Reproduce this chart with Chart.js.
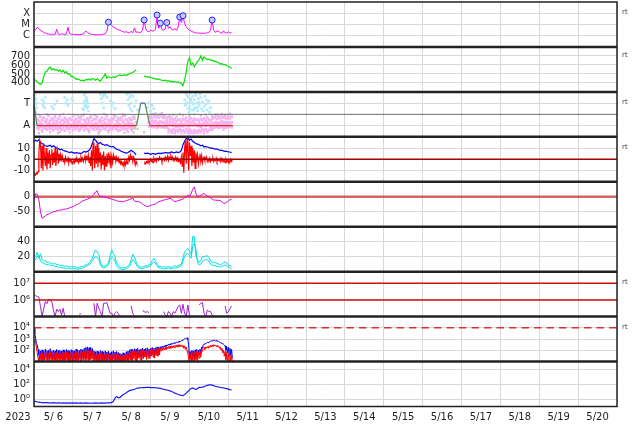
<!DOCTYPE html>
<html><head><meta charset="utf-8">
<script src="https://cdn.jsdelivr.net/npm/chart.js@4/dist/chart.umd.min.js"></script>
<style>html,body{margin:0;padding:0;background:#fff}canvas{display:block}</style>
</head><body>
<canvas id="c" width="634" height="424"></canvas>
<script>
// ---------- axis labels ----------
const yearLabel = '2023';
const dayLabels = ['5/ 6','5/ 7','5/ 8','5/ 9','5/10','5/11','5/12','5/13','5/14','5/15','5/16','5/17','5/18','5/19','5/20'];
const xrayTicks = [1e-6, 1e-5, 1e-4];       const xrayTickLabels = ['C','M','X'];
const windTicks = [400, 500, 600, 700];      const windTickLabels = ['400','500','600','700'];
const sectorTicks = [1, 3];                  const sectorTickLabels = ['A','T'];
const imfTicks = [-10, 0, 10];               const imfTickLabels = ['-10','0','10'];
const dstTicks = [-50, 0];                   const dstTickLabels = ['-50','0'];
const cyanTicks = [20, 40];                  const cyanTickLabels = ['20','40'];
const elecTicks = [1e6, 1e7];                const elecTickLabels = ['10\u2076','10\u2077'];
const protTicks = [1e2, 1e3, 1e4];           const protTickLabels = ['10\u00B2','10\u00B3','10\u2074'];
const p9Ticks = [1, 1e2, 1e4];               const p9TickLabels = ['10\u2070','10\u00B2','10\u2074'];

// ---------- series (hourly from 5/6 00:00 unless noted) ----------
const xrayFlux = [2.3e-6,3.5e-6,5.6e-6,4.5e-6,3.0e-6,2.4e-6,2.0e-6,1.7e-6,1.5e-6,1.4e-6,
 1.35e-6,1.3e-6,1.4e-6,1.3e-6,3.7e-6,1.4e-6,1.3e-6,1.5e-6,1.4e-6,1.3e-6,
 1.4e-6,5.6e-6,1.6e-6,1.4e-6,1.3e-6,1.3e-6,1.25e-6,1.3e-6,1.2e-6,1.3e-6,
 1.4e-6,1.8e-6,2.6e-6,2.0e-6,1.6e-6,1.4e-6,1.3e-6,1.25e-6,1.2e-6,1.2e-6,
 1.25e-6,1.2e-6,1.3e-6,1.4e-6,1.5e-6,2.5e-6,1.6e-5,1.2e-5,8e-6,6e-6,
 5e-6,4e-6,3.4e-6,3.0e-6,2.6e-6,2.3e-6,2.0e-6,2.3e-6,1.9e-6,1.8e-6,
 2.5e-6,1.8e-6,4.9e-6,2.0e-6,2.2e-6,1.9e-6,2.0e-6,3.0e-6,2.5e-5,4e-6,
 2.5e-6,2.2e-6,3.2e-6,2.6e-6,2.8e-6,3.5e-6,6.9e-5,4.5e-6,1.3e-5,3.5e-6,
 3.0e-6,4.0e-6,1.5e-5,4.5e-6,6.3e-6,3.5e-6,3.2e-6,4.5e-6,3.0e-6,6.0e-6,
 4.6e-5,1.5e-5,6.0e-5,1.2e-5,6.3e-6,4.0e-6,3.2e-6,2.6e-6,2.2e-6,2.0e-6,
 1.8e-6,1.7e-6,1.7e-6,1.6e-6,1.7e-6,1.6e-6,1.7e-6,1.8e-6,2.0e-6,3.0e-6,
 2.5e-5,3.0e-6,2.0e-6,2.4e-6,2.6e-6,1.8e-6,1.7e-6,2.8e-6,1.8e-6,1.7e-6,
 2.2e-6,1.7e-6,2.0e-6];
const flareHours = [46, 68, 76, 78, 82, 90, 92, 110];
const flareFlux = [1.6e-5, 2.5e-5, 6.9e-5, 1.3e-5, 1.5e-5, 4.6e-5, 6.0e-5, 2.5e-5];

const windSpeed = [440,430,410,395,385,400,470,520,530,560,
 575,545,560,540,550,530,545,520,540,510,
 525,495,500,470,470,455,440,445,435,425,
 430,420,440,435,445,430,450,440,430,445,
 430,420,450,470,500,455,470,460,455,470,
 460,475,480,490,480,485,490,485,495,500,
 510,515,530,545,null,null,null,null,475,470,
 465,470,460,455,450,445,440,445,435,430,
 425,430,420,425,415,420,410,415,405,410,
 400,395,370,430,520,640,680,600,620,580,
 610,640,660,700,650,690,670,660,665,650,
 655,640,645,630,625,610,615,600,605,590,
 585,575,560];

// sector panel: T=3, A=1
const sectorToward = 3, sectorAway = 1, sectorMid = 2;
const sectorHours = [0, 1.9, 63.3, 65.9, 68.5, 71.6, 122.9];
const sectorState = [2.85, 1, 1, 3, 3, 1, 1];
const towardPts = [[0.2,3.6],[0.5,3.2],[0.8,2.9],[1.2,3.4],[1.5,2.6],[1.8,3.0],[0.3,2.4],[1.0,2.2],[0.6,3.8],
 [5,3.3],[5.5,2.8],[6,3.1],[6.5,2.6],[7,3.5],[11,2.7],[12,2.5],[12.8,2.9],[14.2,3.2],
 [19,3.5],[19.8,3.0],[20.5,3.3],[21,2.8],[23.5,3.4],[24,3.2],
 [30,2.5],[30.5,2.4],[31,3.7],[31.5,3.2],[32,2.9],[32.3,3.5],[32.7,2.6],[33,3.1],[33.3,2.7],
 [30.8,3.0],[31.3,2.7],[31.8,3.9],[32.5,3.3],[33.6,2.3],
 [41,3.8],[41.5,3.4],[42,3.0],[42.5,3.6],[43,2.6],[44,3.7],[45,3.5],[41.8,3.9],[43.5,3.8],
 [47,3.2],[48,2.7],[49,3.0],[50,2.5],
 [57.5,3.8],[58,3.3],[58.5,2.8],[59,3.5],[59.5,2.5],[60,3.0],[61,3.6],[62,2.7],[63,3.2],[64,2.4],
 [58.2,3.9],[59.8,3.7],[60.5,2.3],
 [70,2.6],[71,3.0],[72,2.3],[73,2.8],[74,2.5],[75,2.1],
 [93,3.3],[93.5,2.8],[94,3.8],[94.5,3.0],[95,2.5],[95.5,3.5],[96,2.7],[96.5,3.9],[97,3.2],[97.5,2.4],
 [98,3.6],[98.5,2.9],[99,3.3],[99.5,2.6],[100,3.7],[100.5,3.0],[101,2.3],[101.5,3.4],[102,2.8],[103,3.5],
 [103.5,2.5],[104,3.1],[105,2.7],[105.5,3.6],[106,2.9],[107,2.4],[108,3.2],[109,2.6],
 [93.8,3.0],[94.8,3.6],[95.8,2.2],[96.8,3.4],[97.8,3.0],[98.8,2.4],[99.8,3.9],[100.8,2.6],[101.8,3.1],[102.5,3.8],
 [104.5,2.3],[106.5,3.3],[107.5,3.0],[108.5,2.2]];
const awayMid = [1.1,1.0,1.2,1.1,0.9,1.3,1.0,1.2,1.1,0.95,
 1.2,1.05,1.15,0.9,1.25,1.0,1.1,1.3,0.95,1.2,
 1.05,1.1,0.9,1.2,1.0,1.15,1.3,1.0,1.1,0.9,
 1.2,1.05,1.25,0.95,1.1,1.0,1.2,1.15,0.9,1.3,
 1.0,1.1,1.2,0.95,1.15,1.05,1.25,0.9,1.1,1.0,
 1.2,1.1,0.95,1.3,1.0,1.15,1.05,1.2,0.9,1.1,1.0,
 null,null,null,null,null,null,null,null,
 1.3,1.2,1.35,1.25,1.4,1.3,1.2,1.35,1.25,1.3,
 1.2,1.35,1.1,1.3,1.2,1.0,1.15,0.9,1.1,1.0,
 1.2,0.95,1.1,1.3,1.0,1.15,1.25,1.05,1.2,1.1,
 1.0,1.15,0.9,1.1,1.2,1.0,1.25,1.1,0.95,1.2,
 1.15,1.3,1.1,1.25,1.2,1.35,1.15,1.3,1.2,1.25,1.1,1.3];
const awayHigh = [1.6,1.45,1.8,1.5,1.7,1.4,1.55,1.9,1.45,1.65,
 1.5,1.75,1.4,1.6,1.85,1.5,1.45,1.7,1.55,1.4,
 1.65,1.5,1.8,1.45,1.6,1.4,1.7,1.55,1.9,1.5,
 1.45,1.65,1.5,1.8,1.4,1.6,1.55,1.75,1.45,1.5,
 1.7,1.4,1.6,1.85,1.5,1.45,1.65,1.55,1.8,1.4,
 1.6,1.5,1.7,1.45,1.9,1.55,1.4,1.65,1.5,1.75,1.6,
 null,null,null,null,null,null,null,null,
 1.7,1.8,1.65,1.9,1.75,1.85,1.7,1.95,1.8,1.7,
 1.85,1.6,1.75,1.5,1.65,1.45,1.6,1.4,1.55,1.5,
 1.45,1.6,1.5,1.7,1.4,1.55,1.65,1.45,1.6,1.5,
 1.55,1.4,1.6,1.5,1.65,1.45,1.7,1.55,1.4,1.6,
 1.7,1.8,1.6,1.75,1.65,1.85,1.7,1.8,1.6,1.75,1.65,1.8];
const awayLow = [0.8,0.7,0.9,0.6,0.85,0.75,0.65,0.9,0.7,0.8,
 0.6,0.85,0.75,0.7,0.9,0.65,0.8,0.55,0.85,0.7,
 0.75,0.9,0.6,0.8,0.7,0.85,0.65,0.75,0.9,0.6,
 0.8,0.7,0.55,0.85,0.75,0.65,0.9,0.7,0.8,0.6,
 0.85,0.75,0.7,0.9,0.6,0.8,0.65,0.85,0.75,0.7,
 0.9,0.6,0.8,0.7,0.85,0.65,0.75,0.9,0.7,0.8,0.75,
 null,null,null,null,null,null,null,null,
 0.95,0.9,1.0,0.85,0.95,1.0,0.9,0.95,0.85,0.9,
 0.8,0.9,0.7,0.6,0.5,0.65,0.45,0.6,0.5,0.7,
 0.55,0.6,0.45,0.7,0.5,0.65,0.55,0.4,0.6,0.5,
 0.45,0.6,0.5,0.7,0.55,0.65,0.5,0.6,0.7,0.75,
 0.8,0.85,0.9,0.8,0.95,0.85,0.9,0.8,0.85,0.9,0.95,0.85];
const awayStartHour = 2;
const awayEdgePts = [[3,1.95],[5,0.45],[8,2.0],[10,0.4],[13,1.95],[16,0.45],[18,2.05],[22,0.4],[25,1.95],
 [28,0.5],[31,2.0],[34,0.4],[37,1.95],[40,0.45],[43,2.05],[46,0.4],[49,1.95],[52,0.5],[55,2.0],[58,0.45],
 [73,2.05],[76,0.75],[79,2.1],[83,0.4],[85,0.35],[87,0.3],[89,0.4],[91,0.3],[93,0.35],[95,0.3],
 [97,0.35],[99,0.3],[101,0.35],[103,0.4],[105,0.3],[107,0.4],[110,0.6],[113,2.0],[117,0.65],[121,2.05]];
const grayPts = [[60,1.5],[60.5,0.6],[61,1.2],[61.5,0.4],[62,1.8],[62.5,0.8],[63,1.3],[64,0.7],
 [27,1.9],[29,1.8],[35,1.7],[38,1.9],[44,2.0],[50,1.85],[52,1.7],[55,1.9],[72,1.9],[74,2.0],
 [76,1.95],[78,2.05],[80,1.9],[84,1.85],[86,1.95],[88,1.8],[90,2.0],[92,1.9],[96,1.85],[99,2.0],
 [103,1.9],[106,1.95],[110,1.85],[112,2.0],[114,1.9],[116,2.05],[118,1.95],[120,2.0],
 [3,0.3],[15,0.35],[40,0.3],[56,0.35],[68,0.4]];

const imfBt = [16,17,16,17.5,15,14,13,12,11.5,12,
 12.5,11,12,11,10,9.5,8.5,9,8,7.5,
 7,6.5,6,6.5,6,5.5,6,5.5,5.5,5,
 6,7,6.5,7,8,10,14,18.5,17,15,
 14,15,13.5,13,12.5,13,12,11.5,11,11.5,
 10,9,8.5,8,7,6.5,6,5.5,6,7,
 8,7,6,4,null,null,null,null,5.5,5,
 5.5,5,4.5,5,5,4.5,5,5.5,5,5.5,
 5.5,6,6,5.5,6,6.5,6,6,6.5,6,
 6.5,8,13,16,18.5,19,17,18,16,15,
 14,13.5,13,12,12.5,11,11.5,11,10.5,10,
 10,9.5,9,9,8.5,8,8,7.5,7,7,
 6.5,6.5,6];
// half-hourly
const imfBz = [-14,-13,-14,-12,-13,-11,5,17,15,-8,
 12,-10,14,2,-6,10,-9,6,-4,8,
 -8,4,9,-5,6,-3,10,-6,3,8,
 -4,5,-2,4,0,3,-2,1,-3,2,
 -1,-2,1,-3,0,-2,-1,-4,-2,-1,
 -3,0,-2,1,-1,-3,0,-2,2,-1,
 1,-2,0,3,-1,2,0,4,-3,2,
 -6,8,-10,15,5,-8,12,-4,14,-7,
 10,-3,6,-9,4,-5,7,-10,3,-6,
 5,-4,6,-2,3,-8,2,-3,4,0,
 3,-2,2,-1,1,-3,0,-4,-2,-5,
 -3,-6,-2,-5,-1,-4,-2,2,-1,4,
 1,3,-2,2,0,-5,-2,-4,null,null,
 null,null,null,null,null,null,-4,-3,-4,-2,
 -3,-1,-3,-2,0,-2,-1,-3,1,-1,
 0,-2,1,0,-1,2,0,1,-2,0,
 1,-1,2,0,1,3,-1,2,1,3,
 0,2,-1,1,0,2,-1,1,-2,0,
 -1,-3,2,-6,6,-12,10,16,-4,18,
 8,-10,15,3,12,-6,10,-3,8,-8,
 6,0,4,-4,2,5,-2,3,-3,1,
 2,-1,0,2,-2,0,-1,1,-2,0,
 -1,1,-2,0,-1,1,-2,0,-1,0,
 -2,1,-1,0,-2,-1,-3,0,-2,-1,
 -3,-1,-2,0,-2,-1];

const dst = [-10,10,8,-10,-50,-72,-68,-64,-60,-58,
 -55,-52,-50,-49,-47,-46,-44,-44,-42,-41,
 -41,-39,-37,-35,-33,-30,-27,-25,-22,-18,
 -14,-12,-10,-8,-5,-3,2,8,16,20,
 5,2,0,0,-2,-3,-5,-6,-8,-10,
 -11,-13,-15,-16,-15,-17,-15,-13,-11,-9,
 -7,-5,-14,-16,-16,-17,-20,-24,-28,-31,
 -33,-31,-29,-27,-26,-24,-20,-17,-15,-13,
 -11,-10,-9,-7,-5,-8,-13,-16,-15,-13,
 -11,-10,-8,-3,0,5,2,10,25,33,
 10,0,2,5,8,11,6,2,0,-3,
 -8,-11,-11,-12,-12,-13,-17,-21,-22,-18,
 -14,-10,-8];

const cyanA = [22,20,26,18,24,16,14,15,12,13,
 11,12,10,11,9,10,8,9,8,7,
 8,7,6,7,6,7,6,5,6,7,
 7,8,9,10,11,14,18,24,29,26,
 23,12,8,7,8,9,12,22,29,24,
 20,12,9,6,5,5,5,6,7,10,
 16,23,20,14,9,7,6,6,7,8,
 8,9,10,15,18,14,10,7,7,6,
 7,6,6,7,6,6,7,8,7,8,
 9,10,18,27,29,31,28,23,47,47,
 20,16,12,15,20,20,21,21,19,14,
 13,12,12,11,10,9,10,12,13,12,
 9,8,7];
const cyanB = [18,16,20,22,14,12,11,10,9,10,
 8,9,8,7,7,6,6,5,5,5,
 4,5,4,4,5,4,4,3,4,4,
 5,6,7,8,9,11,14,18,20,19,
 16,9,6,5,6,7,9,16,20,18,
 14,8,5,4,3,3,3,4,5,7,
 11,16,14,10,6,5,4,4,5,6,
 6,7,8,11,13,11,8,5,5,4,
 4,4,4,5,4,4,5,5,5,6,
 7,8,14,20,24,24,22,18,34,38,
 30,12,9,10,14,15,16,16,14,10,
 9,8,8,7,7,6,7,8,9,8,
 6,5,4];

const electron = [2e6,1.8e6,1.6e6,1.5e6,4e5,1e5,3e5,8e5,6e5,1.1e6,
 9e5,8e5,2.5e5,1e5,2.8e5,2e5,2.8e5,1.25e5,3.2e5,1e5,
 null,null,null,null,null,null,null,null,1.4e5,1.5e5,
 null,null,null,null,null,null,null,6.3e5,1e5,6.3e5,
 3.2e5,2e5,1e5,6.3e5,6.3e5,7e5,3.2e5,1.6e5,1.6e5,1e5,
 1.6e5,2e5,1.6e5,1e5,null,null,null,null,null,null,
 4.4e5,1.6e5,1e5,null,null,null,null,2.3e5,2e5,1.8e5,
 2e5,1.7e5,null,null,null,null,null,null,null,null,
 2e5,1.25e5,1e5,2e5,1.6e5,1e5,2e5,1.6e5,2.5e5,4e5,
 5e5,1.6e5,5.5e5,1.6e5,1e5,5e5,1.25e5,1e5,null,null,
 null,null,5e5,6.3e5,7e5,1.6e5,1e5,2.5e5,2e5,2e5,
 1.25e5,1e5,null,null,null,null,null,null,4.4e5,1.6e5,
 2e5,3e5,4.4e5];
const electronLimits = [1e7, 1e6];

// half-hourly
const protonBlue = [10000,3000,1200,400,300,120,40,15,
 90,15,110,20,80,12,130,25,95,14,100,18,140,20,85,12,105,16,90,22,120,14,95,18,
 100,15,85,20,110,12,90,25,120,16,95,14,80,20,115,13,100,18,90,15,
 125,20,105,14,95,22,130,16,110,25,150,18,180,30,200,20,170,25,190,30,
 140,20,90,15,75,12,85,18,70,14,95,11,80,16,65,12,90,15,70,13,
 85,18,60,11,75,14,90,17,70,12,80,15,65,11,55,13,45,10,60,14,50,12,75,15,85,20,
 110,25,130,20,100,30,140,22,120,18,150,35,110,25,135,20,160,30,125,40,
 145,25,170,35,130,30,160,45,180,40,150,35,170,50,200,45,190,60,
 210,150,230,180,250,200,280,220,300,260,350,280,380,320,420,360,450,400,500,450,
 550,480,600,520,650,600,700,750,800,900,1000,1200,1100,1300,900,300,
 20,80,15,100,25,90,18,110,30,120,20,100,40,130,50,200,150,300,
 350,400,380,450,500,480,550,600,650,700,680,750,800,780,700,750,650,700,600,550,
 500,450,420,380,350,300,
 250,100,220,60,180,40,150,30,120,20];
const protonRed = [600,1000,400,200,60,20,10,10,
 50,10,60,12,45,10,70,14,55,10,60,12,80,11,50,10,65,13,55,10,70,12,50,10,
 60,10,50,12,70,10,55,14,75,11,60,10,50,12,70,10,60,11,55,10,
 80,12,65,10,60,13,85,11,70,14,90,12,100,15,110,12,95,14,100,16,
 80,12,55,10,45,10,50,11,40,10,60,10,50,11,40,10,55,10,45,10,
 50,11,38,10,45,10,55,11,45,10,50,10,40,10,35,10,30,10,40,10,35,10,45,10,55,12,
 70,14,85,12,65,18,90,13,80,11,100,20,75,15,90,12,110,18,85,25,
 100,15,120,20,90,18,110,30,130,25,100,20,120,35,150,30,140,40,
 160,90,170,100,180,110,190,120,200,130,220,140,240,150,250,160,260,170,280,180,
 300,190,310,200,320,210,300,200,280,150,250,120,200,90,60,15,
 10,50,10,70,12,60,10,75,15,80,11,70,20,90,25,120,80,150,
 180,120,200,150,220,160,250,180,280,200,300,220,320,240,300,220,280,200,250,150,
 200,100,150,60,100,30,
 80,15,60,10,50,10,40,10,30,10];
const protonLimit = 1e4;

const lowerPanel = [0.45,0.5,0.4,0.38,0.35,0.33,0.3,0.34,0.32,0.3,
 0.31,0.29,0.32,0.3,0.28,0.3,0.31,0.29,0.3,0.28,
 0.3,0.29,0.31,0.28,0.3,0.29,0.3,0.28,0.29,0.3,
 0.28,0.29,0.3,0.28,0.29,0.27,0.29,0.28,0.3,0.28,
 0.29,0.28,0.3,0.28,0.29,0.3,0.31,0.3,0.35,0.5,
 1.3,2.2,1.5,1.5,2.5,3.8,5,7,10,13,
 15,18,20,25,28,30,32,33,34,35,
 35,35,34,33,33,32,30,28,26,22,
 20,18,16,14,12,10,8,6,5,4,
 3.5,3,2.8,4,6,10,18,25,30,24,
 18,25,35,36,37,45,55,65,75,78,
 70,60,50,45,40,36,32,30,27,24,
 21,18,17];

const rtMarks = [['yXray',1e-4],['yWind',700],['ySector',3],['yImf',10],['yElec',1e7],['yProt',1e4]];
const totalHours = 360;

// ---------- helpers ----------
const series = (vals, step, start = 0) => vals.map((v, i) => ({x: start + i * step, y: v}));
const pairs = (arr) => arr.map(([h, v]) => ({x: h, y: v}));
const zipXY = (xs, ys) => xs.map((x, i) => ({x, y: ys[i]}));
const flat = (v) => [{x: 0, y: v}, {x: totalHours, y: v}];
const line = (data, yAxisID, color, extra = {}) => Object.assign({data, yAxisID, borderColor: color, backgroundColor: color,
  borderWidth: 1, pointRadius: 0, tension: 0, spanGaps: false}, extra);
const dots = (data, yAxisID, color, r = 1.8, extra = {}) => Object.assign({data, yAxisID, showLine: false, pointStyle: 'rect',
  pointRadius: r, pointBorderWidth: 0, backgroundColor: color, borderColor: color}, extra);

const FONT = {family: 'DejaVu Sans', size: 10};
function yScale(weight, type, min, max, tickValues, tickLabels) {
  return {
    type, min, max, weight, stack: 'panels', stackWeight: 1, position: 'left',
    border: {display: false},
    grid: {color: '#d8d8d8', lineWidth: 1, drawTicks: false},
    ticks: {padding: 4, color: '#222', font: FONT, autoSkip: false, callback: (v, i) => tickLabels[i]},
    afterBuildTicks: s => { s.ticks = tickValues.map(v => ({value: v})); },
    afterFit: s => { s.width = 34; s.paddingTop = 0; s.paddingBottom = 0; }
  };
}

const sectorColor = (ctx) => {
  const a = ctx.p0.parsed.y, b = ctx.p1.parsed.y;
  if (a === sectorAway && b === sectorAway) return '#e02828';
  if (a === sectorToward && b === sectorToward) return '#5050ff';
  return '#4f8a4f';
};
const PINK = '#f7b2f1';

const datasets = [
  // panel 1
  dots(zipXY(flareHours, flareFlux), 'yXray', '#c8c8ff', 3,
    {pointStyle: 'circle', pointBorderWidth: 1, pointBorderColor: '#2020ff', pointBackgroundColor: '#c8c8ff', order: 0}),
  line(series(xrayFlux, 1), 'yXray', '#ff00ff', {order: 5}),
  // panel 2
  line(series(windSpeed, 1), 'yWind', '#00e400', {order: 5, borderWidth: 1.2}),
  // panel 3
  line(zipXY(sectorHours, sectorState), 'ySector', '#e02828',
    {order: 1, borderWidth: 1.2, segment: {borderColor: sectorColor}}),
  line(flat(sectorMid), 'ySector', '#6e6e6e', {order: 2}),
  dots(series(awayMid, 1, awayStartHour), 'ySector', PINK, 2.2, {order: 8}),
  dots(series(awayHigh, 1, awayStartHour), 'ySector', PINK, 2, {order: 8}),
  dots(series(awayLow, 1, awayStartHour), 'ySector', PINK, 2, {order: 8}),
  dots(pairs(awayEdgePts), 'ySector', PINK, 1.6, {order: 8}),
  dots(pairs(grayPts), 'ySector', '#c8c8c8', 1.6, {order: 7}),
  dots(pairs(towardPts), 'ySector', '#b2eafa', 1.9, {order: 7}),
  // panel 4
  line(flat(0), 'yImf', '#a80000', {order: 2, borderWidth: 1.5}),
  line(series(imfBz, 0.5), 'yImf', '#ff0000', {order: 4, borderWidth: 1.2}),
  line(series(imfBt, 1), 'yImf', '#0000ff', {order: 5, borderWidth: 1.2}),
  // panel 5
  line(flat(0), 'yDst', 'rgba(205,55,55,0.75)', {order: 6, borderWidth: 2.5}),
  line(series(dst, 1), 'yDst', '#e000e0', {order: 4}),
  // panel 6
  line(series(cyanA, 1), 'yCyan', '#00e0e0', {order: 4}),
  line(series(cyanB, 1), 'yCyan', '#00e0e0', {order: 4}),
  // panel 7
  line(flat(electronLimits[0]), 'yElec', '#cc1010', {order: 2, borderWidth: 1.5}),
  line(flat(electronLimits[1]), 'yElec', '#cc1010', {order: 2, borderWidth: 1.5}),
  line(series(electron, 1), 'yElec', '#a020d0', {order: 4}),
  // panel 8
  line(flat(protonLimit), 'yProt', '#dd3030', {order: 2, borderWidth: 1.5, borderDash: [7.5, 5]}),
  line(series(protonRed, 0.5), 'yProt', '#ff0000', {order: 4}),
  line(series(protonBlue, 0.5), 'yProt', '#0000ff', {order: 5}),
  // panel 9
  line(series(lowerPanel, 1), 'yLow', '#1a1aff', {order: 4, borderWidth: 1.2})
];

const panelClip = {
  id: 'panelClip',
  beforeDatasetDraw(chart, args) {
    const s = chart.scales[args.meta.yAxisID], a = chart.chartArea, ctx = chart.ctx;
    ctx.save(); ctx.beginPath(); ctx.rect(a.left, s.top, a.right - a.left, s.bottom - s.top); ctx.clip();
  },
  afterDatasetDraw(chart) { chart.ctx.restore(); }
};
const panelIds = ['yXray','yWind','ySector','yImf','yDst','yCyan','yElec','yProt','yLow'];
const frame = {
  id: 'frame',
  afterDraw(chart) {
    const ctx = chart.ctx, a = chart.chartArea;
    ctx.save();
    ctx.strokeStyle = '#222';
    ctx.lineWidth = 2.5;
    panelIds.slice(1).forEach(id => {
      const y = chart.scales[id].top;
      ctx.beginPath(); ctx.moveTo(a.left, y); ctx.lineTo(a.right, y); ctx.stroke();
    });
    ctx.lineWidth = 1.5;
    ctx.strokeRect(a.left, a.top, a.right - a.left, a.bottom - a.top);
    ctx.fillStyle = '#444';
    ctx.font = '7px "DejaVu Sans"';
    ctx.textAlign = 'left'; ctx.textBaseline = 'middle';
    rtMarks.forEach(([id, v]) => ctx.fillText('rt', a.right + 5, chart.scales[id].getPixelForValue(v) - 1));
    ctx.fillStyle = '#222';
    ctx.font = '10px "DejaVu Sans"';
    ctx.textAlign = 'center';
    ctx.fillText(yearLabel, 18, a.bottom + 11);
    ctx.restore();
  }
};

new Chart(document.getElementById('c'), {
  type: 'line',
  data: {datasets},
  plugins: [panelClip, frame],
  options: {
    responsive: false, animation: false, devicePixelRatio: 1, events: [],
    layout: {autoPadding: false, padding: {top: 2, right: 17, bottom: 0, left: 0}},
    plugins: {legend: {display: false}, tooltip: {enabled: false}},
    scales: {
      x: {
        type: 'linear', min: 0, max: totalHours, position: 'bottom',
        border: {display: false},
        grid: {color: '#d8d8d8', drawTicks: false},
        ticks: {autoSkip: false, maxRotation: 0, labelOffset: 19.4, padding: 5, color: '#222', font: FONT,
          callback: (v, i) => dayLabels[i] || ''},
        afterBuildTicks: s => { s.ticks = dayLabels.concat(['']).map((_, i) => ({value: i * 24})); },
        afterFit: s => { s.height = 17.5; s.paddingLeft = 0; s.paddingRight = 0; }
      },
      yXray: yScale(9, 'logarithmic', 1e-7, 1e-3, xrayTicks, xrayTickLabels),
      yWind: yScale(8, 'linear', 300, 800, windTicks, windTickLabels),
      ySector: yScale(7, 'linear', 0, 4, sectorTicks, sectorTickLabels),
      yImf: yScale(6, 'linear', -20, 20, imfTicks, imfTickLabels),
      yDst: yScale(5, 'linear', -100, 50, dstTicks, dstTickLabels),
      yCyan: yScale(4, 'linear', 0, 60, cyanTicks, cyanTickLabels),
      yElec: yScale(3, 'logarithmic', 1e5, 5e7, elecTicks, elecTickLabels),
      yProt: yScale(2, 'logarithmic', 10, 1e5, protTicks, protTickLabels),
      yLow: yScale(1, 'logarithmic', 0.1, 1e5, p9Ticks, p9TickLabels)
    }
  }
});
</script></body></html>
